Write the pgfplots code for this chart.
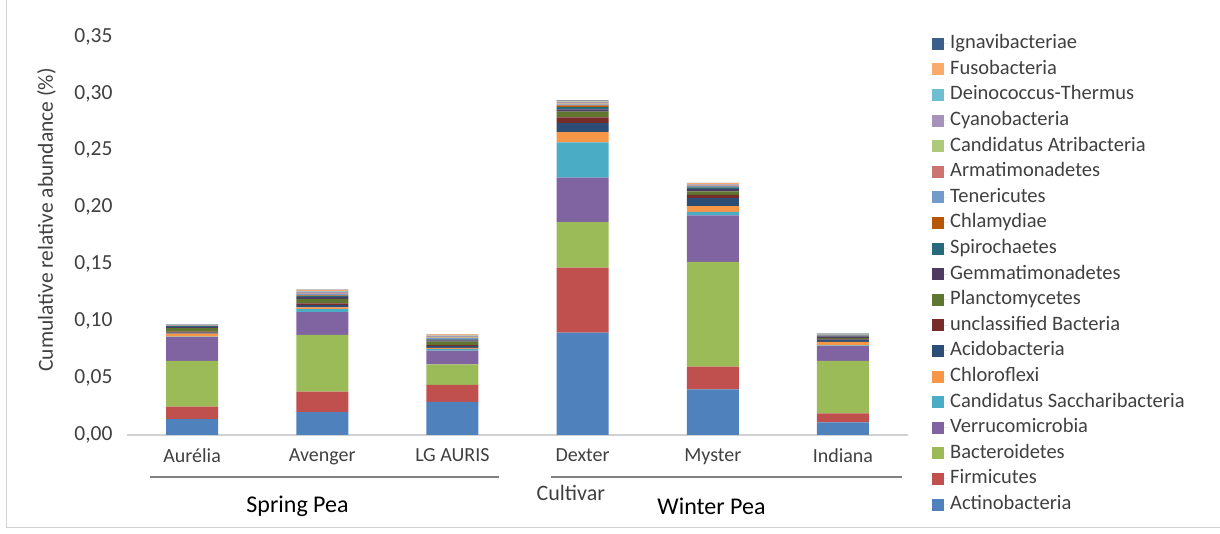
\documentclass[border=0pt]{standalone}
\usepackage{pgfplots}
\pgfplotsset{compat=1.18}
\usepackage{pgfplotstable}
\usepackage{fontspec}
\setmainfont{Carlito}

% Excel palette, series 1-19
\definecolor{cAct}{HTML}{4F81BD}
\definecolor{cFir}{HTML}{C0504D}
\definecolor{cBac}{HTML}{9BBB59}
\definecolor{cVer}{HTML}{8064A2}
\definecolor{cCSa}{HTML}{4BACC6}
\definecolor{cChl}{HTML}{F79646}
\definecolor{cAci}{HTML}{2C4D75}
\definecolor{cUnc}{HTML}{772C2A}
\definecolor{cPla}{HTML}{5F7530}
\definecolor{cGem}{HTML}{4D3B62}
\definecolor{cSpi}{HTML}{276A7C}
\definecolor{cCla}{HTML}{B65708}
\definecolor{cTen}{HTML}{729ACA}
\definecolor{cArm}{HTML}{CD7371}
\definecolor{cCAt}{HTML}{AFC97A}
\definecolor{cCya}{HTML}{A692BA}
\definecolor{cDei}{HTML}{6FBDD1}
\definecolor{cFus}{HTML}{F9AB6B}
\definecolor{cIgn}{HTML}{3A5F8B}
\definecolor{txt}{HTML}{404040}

\pgfplotstableread{
x Act Fir Bac Ver CSa Chl Aci Unc Pla Gem Spi Cla Ten Arm CAt Cya Dei Fus Ign
0 0.014 0.011 0.040 0.021 0.0005 0.0025 0.0010 0.0008 0.0030 0.0012 0.0006 0.0002 0.0002 0.0002 0.0002 0.0003 0.0002 0.0002 0.0002
1 0.020 0.018 0.050 0.020 0.0025 0.0015 0.0020 0.0015 0.0040 0.0015 0.0012 0.0005 0.0012 0.0005 0.0005 0.0008 0.0005 0.0012 0.0003
2 0.029 0.015 0.018 0.012 0.0015 0.0010 0.0015 0.0010 0.0030 0.0010 0.0010 0.0003 0.0008 0.0005 0.0005 0.0008 0.0004 0.0010 0.0002
3 0.090 0.057 0.040 0.039 0.0310 0.0090 0.0080 0.0050 0.0050 0.0020 0.0020 0.0015 0.0008 0.0008 0.0005 0.0008 0.0005 0.0005 0.0005
4 0.040 0.020 0.092 0.041 0.0030 0.0050 0.0070 0.0030 0.0030 0.0020 0.0015 0.0005 0.0005 0.0008 0.0003 0.0005 0.0003 0.0008 0.0003
5 0.011 0.008 0.046 0.013 0.0007 0.0030 0.0020 0.0007 0.0008 0.0015 0.0005 0.0002 0.0008 0.0002 0.0002 0.0002 0.0002 0.0003 0.0002
}\abund

\begin{document}
\begin{tikzpicture}
\path[use as bounding box] (-127pt,-99pt) rectangle (1093pt,435pt);
\draw[black!18, line width=1pt] (-120pt,435pt) -- (-120pt,-93pt) -- (1093pt,-93pt);
\begin{axis}[
  at={(0pt,0pt)}, anchor=south west,
  scale only axis,
  width=781pt, height=398.5pt,
  ybar stacked,
  bar width=52pt,
  xmin=-0.5, xmax=5.5,
  ymin=0, ymax=0.35,
  ytick={0,0.05,...,0.35},
  xtick={0,...,5},
  xticklabels={Aurélia, Avenger, LG AURIS, Dexter, Myster, Indiana},
  major tick length=0pt,
  axis x line=bottom,
  axis y line=left,
  x axis line style={black!18, line width=1.2pt, -},
  y axis line style={draw=none},
  clip=false,
  font=\fontsize{20}{24}\selectfont,
  /pgf/number format/assume math mode=true,
  yticklabel style={/pgf/number format/.cd, fixed, fixed zerofill, precision=2, use comma,
    /tikz/.cd, font=\fontsize{21.5}{25}\selectfont, text=txt, xshift=-11pt},
  xticklabel style={font=\fontsize{20}{24}\selectfont, text=txt, yshift=-10pt},
  ylabel={Cumulative relative abundance (\%)},
  ylabel style={font=\fontsize{21.5}{25}\selectfont, text=txt, at={(axis description cs:-0.103,0.54)}, anchor=center},
  reverse legend,
  legend style={at={(1.0307,1.01)}, anchor=north west, draw=none, inner sep=0pt,
    font=\fontsize{20.5}{24}\selectfont, text=txt, row sep=3.6pt,
    nodes={inner sep=2pt, text height=14pt, text depth=4pt}},
  legend cell align=left,
  legend image code/.code={\draw[#1, draw=none] (0pt,-6pt) rectangle (12pt,6pt);
    \path (0pt,0pt) -- (16pt,0pt);},
  every axis plot/.append style={draw=none},
]
\addplot[fill=cAct] table[x=x, y=Act] {\abund};
\addplot[fill=cFir] table[x=x, y=Fir] {\abund};
\addplot[fill=cBac] table[x=x, y=Bac] {\abund};
\addplot[fill=cVer] table[x=x, y=Ver] {\abund};
\addplot[fill=cCSa] table[x=x, y=CSa] {\abund};
\addplot[fill=cChl] table[x=x, y=Chl] {\abund};
\addplot[fill=cAci] table[x=x, y=Aci] {\abund};
\addplot[fill=cUnc] table[x=x, y=Unc] {\abund};
\addplot[fill=cPla] table[x=x, y=Pla] {\abund};
\addplot[fill=cGem] table[x=x, y=Gem] {\abund};
\addplot[fill=cSpi] table[x=x, y=Spi] {\abund};
\addplot[fill=cCla] table[x=x, y=Cla] {\abund};
\addplot[fill=cTen] table[x=x, y=Ten] {\abund};
\addplot[fill=cArm] table[x=x, y=Arm] {\abund};
\addplot[fill=cCAt] table[x=x, y=CAt] {\abund};
\addplot[fill=cCya] table[x=x, y=Cya] {\abund};
\addplot[fill=cDei] table[x=x, y=Dei] {\abund};
\addplot[fill=cFus] table[x=x, y=Fus] {\abund};
\addplot[fill=cIgn] table[x=x, y=Ign] {\abund};
\legend{Actinobacteria, Firmicutes, Bacteroidetes, Verrucomicrobia, Candidatus Saccharibacteria, Chloroflexi, Acidobacteria, unclassified Bacteria, Planctomycetes, Gemmatimonadetes, Spirochaetes, Chlamydiae, Tenericutes, Armatimonadetes, Candidatus Atribacteria, Cyanobacteria, Deinococcus-Thermus, Fusobacteria, Ignavibacteriae}

% cultivar groups
\draw[black!50, line width=1.3pt] ([yshift=-42pt]axis cs:-0.32,0) -- ([yshift=-42pt]axis cs:2.36,0);
\draw[black!50, line width=1.3pt] ([yshift=-42pt]axis cs:2.76,0) -- ([yshift=-42pt]axis cs:5.45,0);
\node[font=\fontsize{24}{28}\selectfont, text=black] at ([yshift=-71pt]axis cs:0.81,0) {Spring Pea};
\node[font=\fontsize{24}{28}\selectfont, text=black] at ([yshift=-71pt]axis cs:3.99,0) {Winter Pea};
\node[font=\fontsize{22}{26}\selectfont, text=txt] at ([yshift=-58pt]axis cs:2.91,0) {Cultivar};
\end{axis}
\end{tikzpicture}
\end{document}
